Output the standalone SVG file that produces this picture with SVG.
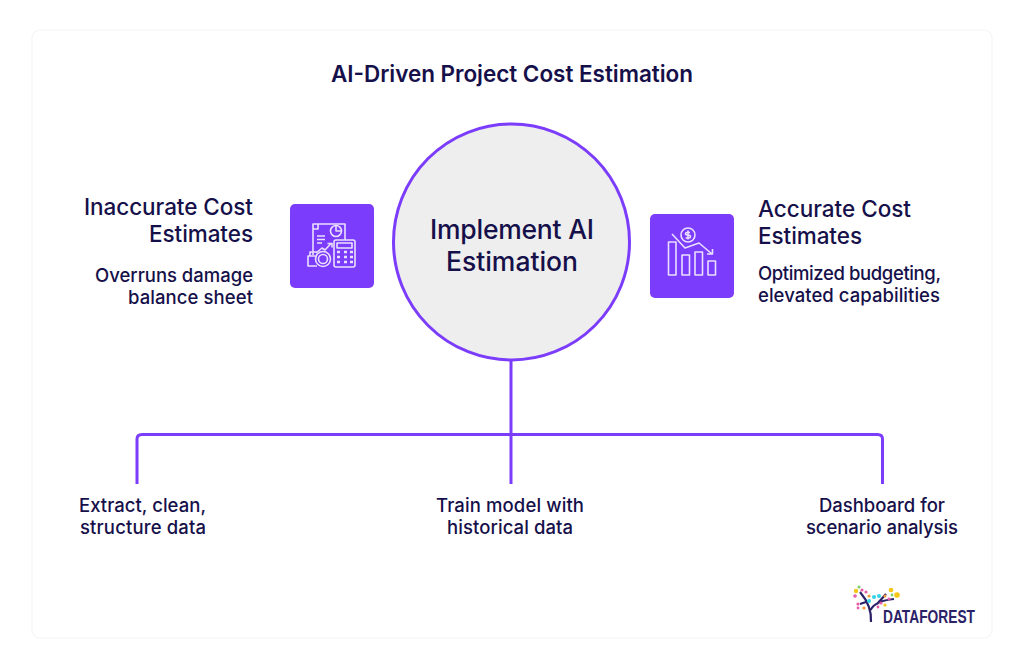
<svg xmlns="http://www.w3.org/2000/svg" width="1024" height="670" viewBox="0 0 1024 670">
<style>
text{font-family:Inter,"Liberation Sans",sans-serif;fill:#16104a}
.t{font-weight:600;font-size:22.500px}
.h{font-weight:500;font-size:22.500px}
.s{font-weight:500;font-size:18.500px}
.c{font-weight:500;font-size:26.500px}
.m{text-anchor:middle}.e{text-anchor:end}
.ic{fill:none;stroke:#eadfff;stroke-width:1.600;stroke-linejoin:round}
.box{fill:#7b3cfb}
.ln{fill:none;stroke:#7b3cfb;stroke-width:3}
</style>
<rect width="1024" height="670" fill="#fff"/>
<rect x="32" y="30" width="960" height="608" rx="8" fill="#fff" stroke="#f5f5f5" stroke-width="1.200"/>
<text id="title" class="t m" x="512" y="81.500" textLength="362">AI-Driven Project Cost Estimation</text>
<g id="connectors">
<path class="ln" d="M511 360V484"/>
<path class="ln" d="M137 484V439Q137 434.500 142 434.500H877.500Q882.500 434.500 882.500 439V484"/>
</g>
<g id="center">
<circle cx="511.500" cy="242" r="118" fill="#eeeeee" stroke="#7b3cfb" stroke-width="3"/>
<text class="c m" x="512" y="239" textLength="164">Implement AI</text>
<text class="c m" x="512" y="271" textLength="132">Estimation</text>
</g>
<g id="left-node">
<text class="h e" x="253" y="214.500" textLength="169">Inaccurate Cost</text>
<text class="h e" x="253" y="241.500" textLength="104">Estimates</text>
<text class="s e" x="253" y="281.500" textLength="158">Overruns damage</text>
<text class="s e" x="253" y="304" textLength="125">balance sheet</text>
<rect class="box" x="290" y="204" width="84" height="84" rx="5"/>
<g class="ic">
<path d="M318 224H313V255M318 224L322 224H345V240"/>
<path d="M318 224V229H313"/>
<circle cx="336" cy="231" r="5.500"/><path d="M336 225.500V231H341.500"/>
<path d="M317 236H325M317 239.500H325M317 243H322"/>
<path d="M316 253L322 248L325 250L331 243.500M327.500 243.500H332V247.500"/>
<rect x="334" y="240" width="21" height="27" rx="2"/><rect x="337" y="243" width="15" height="5"/>
<path d="M337 252h3M344 252h3M350 252h3M337 257h3M344 257h3M350 257h3M337 262h3M344 262h3M350 262h3" stroke-width="2.500"/>
<circle cx="323" cy="259" r="7.500"/><circle cx="323" cy="259" r="4.500"/>
<path d="M315.500 256H308V266H317M310 256V252H317"/>
</g>
</g>
<g id="right-node">
<text class="h" x="758" y="217" textLength="153">Accurate Cost</text>
<text class="h" x="758" y="244" textLength="104">Estimates</text>
<text class="s" x="758" y="279.500" textLength="183">Optimized budgeting,</text>
<text class="s" x="758" y="302" textLength="182">elevated capabilities</text>
<rect class="box" x="650" y="214" width="84" height="84" rx="5"/>
<g class="ic">
<circle cx="688" cy="235" r="7"/>
<path d="M690 232.500H687Q685.500 232.500 685.500 234Q685.500 235 688 235Q690.500 235 690.500 236.500Q690.500 238 689 238H685.500M688 230.500V239.500"/>
<rect x="668.500" y="242" width="7.500" height="33"/><rect x="682" y="255" width="7.500" height="20"/>
<rect x="695" y="252" width="7.500" height="23"/><rect x="708" y="261" width="7.500" height="14"/>
<path d="M672 234L685 248L699 243L712 254M707 254H712.500V249"/>
</g>
</g>
<g id="step-1"><text class="s m" x="142.500" y="511.500" textLength="127">Extract, clean,</text><text class="s m" x="143" y="534" textLength="126">structure data</text></g>
<g id="step-2"><text class="s m" x="510" y="511.500" textLength="148">Train model with</text><text class="s m" x="510" y="534" textLength="126">historical data</text></g>
<g id="step-3"><text class="s m" x="882" y="511.500" textLength="126">Dashboard for</text><text class="s m" x="882" y="534" textLength="152">scenario analysis</text></g>
<g id="logo">
<path d="M871 622Q872 606 860 592M870.500 610Q875 601 894 599M866 602L860 604M877 604L886 594" fill="none" stroke="#2b2268" stroke-width="2.200"/>
<g>
<circle cx="856" cy="591" r="2.200" fill="#f5c518"/><circle cx="855" cy="596" r="1.800" fill="#e85ba8"/>
<circle cx="859" cy="587" r="1.600" fill="#7ccf6b"/><circle cx="862" cy="590" r="1.600" fill="#e85ba8"/>
<circle cx="866" cy="592" r="1.600" fill="#e85ba8"/><circle cx="869" cy="596" r="1.600" fill="#f59a3c"/>
<circle cx="874" cy="597" r="2" fill="#2fd4e8"/><circle cx="869" cy="601" r="2" fill="#2fd4e8"/>
<circle cx="879" cy="596" r="2" fill="#2fd4e8"/><circle cx="881" cy="603" r="1.600" fill="#e85ba8"/>
<circle cx="885" cy="596" r="1.600" fill="#f59a3c"/><circle cx="889" cy="599" r="1.600" fill="#e85ba8"/>
<circle cx="891" cy="590" r="2.300" fill="#f5c518"/><circle cx="897" cy="595" r="2.800" fill="#f5c518"/>
<circle cx="892" cy="595" r="1.400" fill="#7ccf6b"/><circle cx="885" cy="605" r="1.600" fill="#f5c518"/>
<circle cx="858" cy="604" r="1.600" fill="#e85ba8"/><circle cx="864" cy="608" r="1.600" fill="#f59a3c"/>
<circle cx="858" cy="608" r="1.400" fill="#e85ba8"/><circle cx="878" cy="607" r="1.400" fill="#e85ba8"/>
</g>
<text x="883" y="622.500" style="font-family:'Liberation Sans',sans-serif;font-weight:700;font-size:17.500px;fill:#2b2268" textLength="92" lengthAdjust="spacingAndGlyphs">DATAFOREST</text>
</g>
</svg>
